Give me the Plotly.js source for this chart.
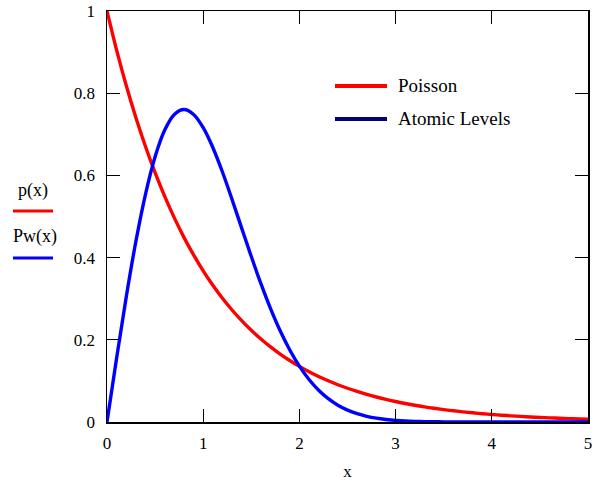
<!DOCTYPE html>
<html>
<head>
<meta charset="utf-8">
<script src="https://cdn.plot.ly/plotly-3.0.1.min.js"></script>
<style>html,body{margin:0;padding:0;background:#fff;}#chart{width:606px;height:481px;}</style>
</head>
<body>
<div id="chart"></div>
<script>
var xValues = [0,0.1,0.2,0.3,0.4,0.5,0.6,0.7,0.8,0.9,1.0,1.1,1.2,1.3,1.4,1.5,1.6,1.7,1.8,1.9,2.0,2.1,2.2,2.3,2.4,2.5,2.6,2.7,2.8,2.9,3.0,3.1,3.2,3.3,3.4,3.5,3.6,3.7,3.8,3.9,4.0,4.1,4.2,4.3,4.4,4.5,4.6,4.7,4.8,4.9,5.0];
var poisson = [1,0.9048,0.8187,0.7408,0.6703,0.6065,0.5488,0.4966,0.4493,0.4066,0.3679,0.3329,0.3012,0.2725,0.2466,0.2231,0.2019,0.1827,0.1653,0.1496,0.1353,0.1225,0.1108,0.1003,0.0907,0.0821,0.0743,0.0672,0.0608,0.0550,0.0498,0.0450,0.0408,0.0369,0.0334,0.0302,0.0273,0.0247,0.0224,0.0202,0.0183,0.0166,0.0150,0.0136,0.0123,0.0111,0.0101,0.0091,0.0082,0.0074,0.0067];
var atomicLevels = [0,0.1559,0.3044,0.4391,0.5541,0.6454,0.7104,0.7483,0.7602,0.7483,0.7162,0.6680,0.6083,0.5415,0.4717,0.4025,0.3365,0.2759,0.2219,0.1752,0.1358,0.1033,0.0772,0.0567,0.0409,0.0290,0.0202,0.0138,0.0093,0.0062,0.0040,0.0025,0.0016,0.0010,0.0006,0.0004,0.0002,0.0001,0.0001,0,0,0,0,0,0,0,0,0,0,0,0];
var xTicks = [0,1,2,3,4,5];
var yTicks = [0,0.2,0.4,0.6,0.8,1];
var yTickText = ['0','0.2','0.4','0.6','0.8','1'];
var legendNames = ['Poisson','Atomic Levels'];
var sideLabels = ['p(x)','Pw(x)'];

var font = 'Liberation Serif';
var traces = [
  {x: xValues, y: poisson, mode: 'lines', line: {color: '#ff0000', width: 3.4, shape: 'spline', smoothing: 1}, showlegend: false, hoverinfo: 'skip'},
  {x: xValues, y: atomicLevels, mode: 'lines', line: {color: '#0000ff', width: 3.4, shape: 'spline', smoothing: 1}, showlegend: false, hoverinfo: 'skip'}
];

var W = 481, H = 411; // plot area px
function px(p){ return (p - 107) / W; }
function py(p){ return (422 - p) / H; }

var layout = {
  width: 606, height: 481,
  margin: {l: 107, r: 18, t: 11, b: 59, autoexpand: false},
  paper_bgcolor: '#fff', plot_bgcolor: '#fff',
  showlegend: false,
  font: {family: font, color: '#000', size: 16},
  xaxis: {
    range: [0, 5], tickvals: xTicks, ticktext: xTicks.map(String),
    ticks: 'inside', ticklen: 13, tickwidth: 1.2, tickcolor: '#000',
    showline: true, linecolor: '#000', linewidth: 1.5, mirror: 'ticks',
    showgrid: false, zeroline: false, automargin: false,
    tickfont: {family: font, size: 17, color: '#000'},
    ticklabelstandoff: 5,
    title: {text: 'x', font: {family: font, size: 17, color: '#000'}, standoff: 20}
  },
  yaxis: {
    range: [0, 1], tickvals: yTicks, ticktext: yTickText,
    ticks: 'inside', ticklen: 13, tickwidth: 1.2, tickcolor: '#000',
    showline: true, linecolor: '#000', linewidth: 1.5, mirror: 'ticks',
    showgrid: false, zeroline: false, automargin: false,
    tickfont: {family: font, size: 17, color: '#000'},
    ticklabelstandoff: 7
  },
  shapes: [
    {type: 'line', xref: 'paper', yref: 'paper', x0: px(13), x1: px(53), y0: py(211), y1: py(211), line: {color: '#ff0000', width: 3}},
    {type: 'line', xref: 'paper', yref: 'paper', x0: px(13), x1: px(53), y0: py(258), y1: py(258), line: {color: '#0000ff', width: 3}},
    {type: 'line', xref: 'paper', yref: 'paper', x0: px(335), x1: px(387), y0: py(86), y1: py(86), line: {color: '#ff0000', width: 4}},
    {type: 'line', xref: 'paper', yref: 'paper', x0: px(335), x1: px(387), y0: py(119), y1: py(119), line: {color: '#000080', width: 4}}
  ],
  annotations: [
    {xref: 'paper', yref: 'paper', x: px(33), y: py(190), text: sideLabels[0], showarrow: false, xanchor: 'center', yanchor: 'middle', font: {family: font, size: 18, color: '#000'}},
    {xref: 'paper', yref: 'paper', x: px(35), y: py(236), text: sideLabels[1], showarrow: false, xanchor: 'center', yanchor: 'middle', font: {family: font, size: 18, color: '#000'}},
    {xref: 'paper', yref: 'paper', x: px(396), y: py(85), text: legendNames[0], showarrow: false, xanchor: 'left', yanchor: 'middle', font: {family: font, size: 19, color: '#000'}},
    {xref: 'paper', yref: 'paper', x: px(396), y: py(118), text: legendNames[1], showarrow: false, xanchor: 'left', yanchor: 'middle', font: {family: font, size: 19, color: '#000'}}
  ]
};
Plotly.newPlot('chart', traces, layout, {staticPlot: true, displayModeBar: false});
</script>
</body>
</html>
